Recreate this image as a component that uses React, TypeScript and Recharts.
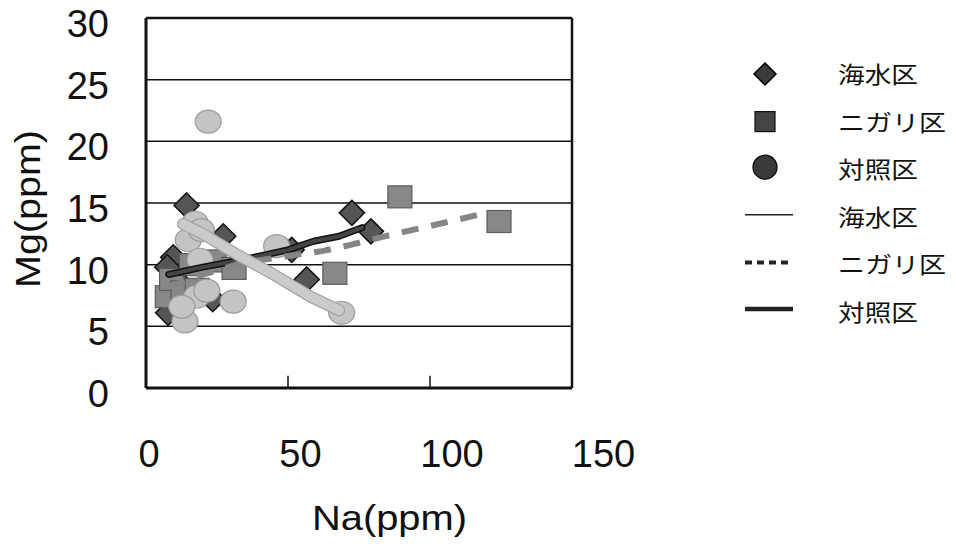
import React from 'react';
import { ScatterChart, Scatter, XAxis, YAxis, CartesianGrid, ReferenceLine, Label } from 'recharts';

// ---- data ----
const naTicks = [0, 50, 100, 150];
const mgTicks = [0, 5, 10, 15, 20, 25, 30];

const seawaterPoints = [
  { x: 14.3, y: 14.8 }, { x: 27.2, y: 12.3 }, { x: 9.6, y: 10.6 }, { x: 7.5, y: 9.8 },
  { x: 7.8, y: 6.1 }, { x: 23.5, y: 7.2 }, { x: 12.0, y: 8.5 }, { x: 51.3, y: 11.2 },
  { x: 56.6, y: 8.8 }, { x: 72.5, y: 14.2 }, { x: 79.2, y: 12.7 },
];
const nigariPoints = [
  { x: 7.5, y: 7.4 }, { x: 9.0, y: 8.8 }, { x: 13.0, y: 7.8 }, { x: 18.0, y: 8.0 },
  { x: 16.0, y: 10.0 }, { x: 24.0, y: 10.3 }, { x: 31.0, y: 9.7 }, { x: 66.5, y: 9.3 },
  { x: 89.4, y: 15.5 }, { x: 124.3, y: 13.5 },
];
const controlPoints = [
  { x: 21.9, y: 21.6 }, { x: 17.3, y: 13.4 }, { x: 14.9, y: 12.0 }, { x: 19.5, y: 12.8 },
  { x: 19.0, y: 10.4 }, { x: 46.0, y: 11.5 }, { x: 30.7, y: 7.0 }, { x: 17.8, y: 7.4 },
  { x: 13.7, y: 5.4 }, { x: 12.6, y: 6.6 }, { x: 21.4, y: 7.9 }, { x: 68.9, y: 6.1 },
];

const seawaterLine = [
  { x: 8, y: 9.2 }, { x: 20, y: 9.8 }, { x: 34, y: 10.4 }, { x: 50, y: 11.2 },
  { x: 59, y: 11.9 }, { x: 68, y: 12.3 }, { x: 76, y: 13.0 },
];
const nigariLine = [
  { x: 8, y: 8.2 }, { x: 20, y: 9.2 }, { x: 35, y: 10.2 }, { x: 50, y: 10.7 },
  { x: 62, y: 11.1 }, { x: 72, y: 11.6 }, { x: 84, y: 12.3 }, { x: 105, y: 13.4 }, { x: 118, y: 14.1 },
];
const controlLine = [
  { x: 13, y: 13.3 }, { x: 20, y: 12.5 }, { x: 33, y: 10.7 }, { x: 45, y: 9.2 },
  { x: 58, y: 7.4 }, { x: 68, y: 6.3 },
];

const legendLabels = ['海水区', 'ニガリ区', '対照区', '海水区', 'ニガリ区', '対照区'];
const legendKinds = ['diamond', 'square', 'circle', 'thin', 'dotted', 'thick'];

const W = 956;
const H = 550;
const NUM_FONT = '"Liberation Sans", Arial, sans-serif';
const CJK_FONT = '"Noto Sans CJK JP", "Noto Sans CJK SC", sans-serif';

const Diamond = (p: any) => {
  const { cx, cy } = p;
  const r = 12.5;
  return (
    <polygon
      points={`${cx},${cy - r} ${cx + r},${cy} ${cx},${cy + r} ${cx - r},${cy}`}
      fill="#555555"
      stroke="#151515"
      strokeWidth={1.6}
    />
  );
};
const Square = (p: any) => {
  const { cx, cy } = p;
  return <rect x={cx - 12} y={cy - 11} width={24} height={22} fill="#888888" stroke="#5c5c5c" strokeWidth={1.2} />;
};
const Circle = (p: any) => {
  const { cx, cy } = p;
  return <ellipse cx={cx} cy={cy} rx={13} ry={11.5} fill="#c4c4c4" stroke="#9a9a9a" strokeWidth={1.2} />;
};
const Hidden = () => <g />;

const YTick = (p: any) => (
  <text x={109} y={p.y + 19} textAnchor="end" fontFamily={NUM_FONT} fontSize={38} fill="#111">
    {p.payload.value}
  </text>
);
const XTick = (p: any) => (
  <text x={p.x + 3 + p.payload.value * 0.19} y={467} textAnchor="middle" fontFamily={NUM_FONT} fontSize={38} fill="#111">
    {p.payload.value}
  </text>
);

const Legend = () => {
  const x0 = 765;
  const rowY = (i: number) => 74 + i * 47.6;
  return (
    <svg width={W} height={H} style={{ position: 'absolute', left: 0, top: 0, pointerEvents: 'none' }}>
      {legendKinds.map((k, i) => {
        const cy = rowY(i);
        let icon: React.ReactNode = null;
        if (k === 'diamond') icon = <polygon points={`${x0},${cy - 11} ${x0 + 11},${cy} ${x0},${cy + 11} ${x0 - 11},${cy}`} fill="#3a3a3a" stroke="#000" strokeWidth={1.5} />;
        if (k === 'square') icon = <rect x={x0 - 10} y={cy - 10} width={20} height={20} fill="#444" stroke="#111" strokeWidth={1.2} />;
        if (k === 'circle') icon = <circle cx={x0} cy={cy - 2} r={12} fill="#3a3a3a" stroke="#000" strokeWidth={1.2} />;
        if (k === 'thin') icon = <line x1={745} x2={793} y1={cy - 2} y2={cy - 2} stroke="#222" strokeWidth={1.5} />;
        if (k === 'dotted') icon = <line x1={745} x2={793} y1={cy - 2} y2={cy - 2} stroke="#222" strokeWidth={4} strokeDasharray="7 5" />;
        if (k === 'thick') icon = <line x1={745} x2={793} y1={cy - 3} y2={cy - 3} stroke="#222" strokeWidth={4.5} />;
        const label = legendLabels[i];
        return (
          <g key={i}>
            {icon}
            <text x={838} y={cy + 9} fontFamily={CJK_FONT} fontSize={23} fill="#111" textLength={label.length * 28 - 4} lengthAdjust="spacingAndGlyphs">
              {label}
            </text>
          </g>
        );
      })}
    </svg>
  );
};

export default function App() {
  return (
    <div style={{ position: 'absolute', left: 0, top: 0, width: W, height: H, background: '#fff' }}>
      <ScatterChart width={W} height={H} margin={{ top: 18, right: 384, bottom: 0, left: 0 }}>
        <CartesianGrid horizontal vertical={false} stroke="#111" strokeWidth={1.5} />
        <XAxis
          type="number"
          dataKey="x"
          domain={[0, 150]}
          ticks={naTicks}
          height={162}
          tick={<XTick />}
          tickLine={false}
          axisLine={{ stroke: '#111', strokeWidth: 3 }}
          interval={0}
        >
          <Label
            content={() => (
              <text x={389.5} y={530} textAnchor="middle" fontFamily={NUM_FONT} fontSize={35} fill="#111" textLength={155} lengthAdjust="spacingAndGlyphs">
                Na(ppm)
              </text>
            )}
          />
        </XAxis>
        <YAxis
          type="number"
          dataKey="y"
          domain={[0, 30]}
          ticks={mgTicks}
          width={146}
          tick={<YTick />}
          tickLine={false}
          axisLine={{ stroke: '#111', strokeWidth: 3 }}
          interval={0}
        >
          <Label
            content={() => (
              <text x={40} y={209} transform="rotate(-90 40 209)" textAnchor="middle" fontFamily={NUM_FONT} fontSize={35} fill="#111" textLength={158} lengthAdjust="spacingAndGlyphs">
                Mg(ppm)
              </text>
            )}
          />
        </YAxis>
        <ReferenceLine y={30} stroke="#111" strokeWidth={2.5} />
        <ReferenceLine x={150} stroke="#111" strokeWidth={2.5} />
        <ReferenceLine segment={[{ x: 50, y: 0 }, { x: 50, y: 1 }]} stroke="#111" strokeWidth={1.5} />
        <ReferenceLine segment={[{ x: 100, y: 0 }, { x: 100, y: 1 }]} stroke="#111" strokeWidth={1.5} />

        <Scatter name="海水区" data={seawaterPoints} shape={Diamond} isAnimationActive={false} />
        <Scatter name="ニガリ区" data={nigariPoints} shape={Square} isAnimationActive={false} />
        <Scatter name="対照区" data={controlPoints} shape={Circle} isAnimationActive={false} />

        <Scatter data={seawaterLine} shape={Hidden} isAnimationActive={false}
          line={{ stroke: '#111', strokeWidth: 7, strokeLinejoin: 'round', strokeLinecap: 'round' }} />
        <Scatter data={seawaterLine} shape={Hidden} isAnimationActive={false}
          line={{ stroke: '#444', strokeWidth: 4, strokeLinejoin: 'round', strokeLinecap: 'round' }} />
        <Scatter data={nigariLine} shape={Hidden} isAnimationActive={false}
          line={{ stroke: '#858585', strokeWidth: 6, strokeDasharray: '17 13' }} />
        <Scatter data={controlLine} shape={Hidden} isAnimationActive={false}
          line={{ stroke: '#a5a5a5', strokeWidth: 12, strokeLinejoin: 'round', strokeLinecap: 'round' }} />
        <Scatter data={controlLine} shape={Hidden} isAnimationActive={false}
          line={{ stroke: '#cbcbcb', strokeWidth: 9.5, strokeLinejoin: 'round', strokeLinecap: 'round' }} />
      </ScatterChart>
      <Legend />
    </div>
  );
}
